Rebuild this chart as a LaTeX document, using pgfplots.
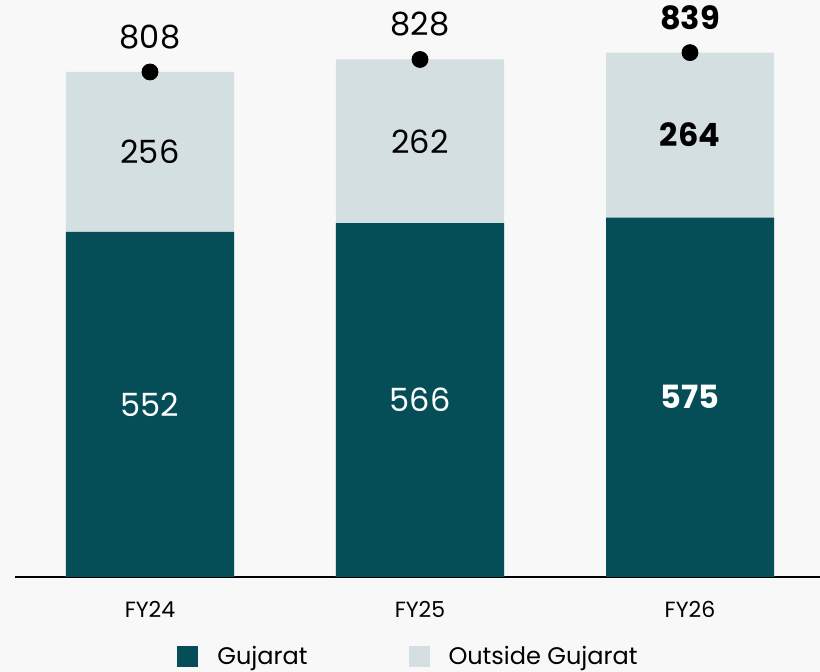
\documentclass[border=0pt]{standalone}
\usepackage{fontspec}
\setmainfont{Poppins}
\usepackage{pgfplots}
\pgfplotsset{compat=1.18}
\definecolor{guj}{HTML}{054E58}
\definecolor{outguj}{HTML}{D4DFE1}
\definecolor{bg}{HTML}{F8F8F8}

\begin{document}
\begin{tikzpicture}
\fill[bg] (-7.5pt,-47.5pt) rectangle (402.5pt,288.5pt);
\useasboundingbox (-7.5pt,-47.5pt) rectangle (402.5pt,288.5pt);
\begin{axis}[
    scale only axis,
    width=402.5pt, height=288.5pt,
    xmin=-0.5, xmax=2.4815,
    ymin=0, ymax=923.2,
    axis x line*=bottom,
    axis y line=none,
    x axis line style={-, line width=0.7pt, black},
    xtick={0,1,2},
    xticklabels={FY24,FY25,FY26},
    major tick length=0pt,
    xticklabel style={anchor=center, yshift=-16pt, font=\fontsize{11}{13}\selectfont},
    clip=false,
    legend columns=2,
    legend style={draw=none, fill=none, at={(0.49,-0.1386)}, anchor=center,
        font=\fontsize{12}{14}\selectfont,
        /tikz/every even column/.append style={column sep=48.5pt},
        /tikz/every odd column/.append style={column sep=7.5pt}},
    legend image code/.code={\fill[#1, draw=none] (0pt,-5.25pt) rectangle (10.5pt,5.25pt);},
]
% totals (outside Gujarat sits on top of Gujarat)
\addplot[ybar, bar width=84pt, bar shift=0pt, fill=outguj, draw=none, forget plot]
    coordinates {(0,808) (1,828) (2,839)};
\addplot[ybar, bar width=84pt, bar shift=0pt, fill=guj, draw=none, forget plot]
    coordinates {(0,552) (1,566) (2,575)};

% segment labels
\addplot[draw=none, mark=none, forget plot, nodes near coords, point meta=explicit symbolic,
    nodes near coords style={anchor=center, text=white, font=\fontsize{16}{18}\selectfont}]
    coordinates {(0,276) [552] (1,283) [566] (2,287.5) [\textbf{575}]};
\addplot[draw=none, mark=none, forget plot, nodes near coords, point meta=explicit symbolic,
    nodes near coords style={anchor=center, text=black, font=\fontsize{16}{18}\selectfont}]
    coordinates {(0,680) [256] (1,697) [262] (2,707) [\textbf{264}]};

% total dots and labels
\addplot[only marks, mark=*, mark size=4pt, black, forget plot, nodes near coords,
    point meta=explicit symbolic,
    nodes near coords style={anchor=center, yshift=17.5pt, text=black, font=\fontsize{16}{18}\selectfont}]
    coordinates {(0,808) [808] (1,828) [828] (2,839) [\textbf{839}]};

\addlegendimage{fill=guj, draw=none}
\addlegendentry{Gujarat}
\addlegendimage{fill=outguj, draw=none}
\addlegendentry{Outside Gujarat}
\end{axis}
\end{tikzpicture}
\end{document}
